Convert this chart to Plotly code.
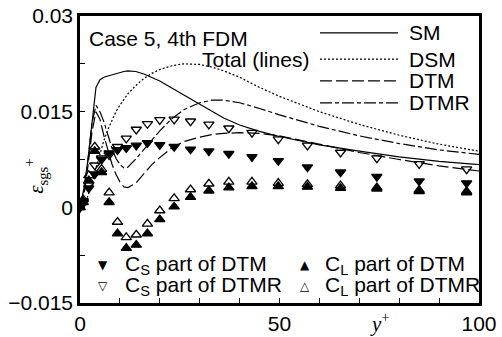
import plotly.graph_objects as go

# Total SGS dissipation curves (lines)
y_plus_line = [0, 1, 2, 3, 4, 5, 6, 7, 8, 9, 10, 11, 12, 14, 16, 18, 20, 23, 26, 30,
               33, 36, 40, 45, 50, 60, 70, 80, 90, 100]
eps_sm = [0, 0.003, 0.0075, 0.0135, 0.0188, 0.0200, 0.0204, 0.0206, 0.0208, 0.0210,
          0.0212, 0.0213, 0.0214, 0.0213, 0.0209, 0.0204, 0.0198, 0.0187, 0.0176, 0.0161,
          0.0150, 0.0140, 0.0129, 0.0119, 0.0111, 0.0098, 0.0088, 0.0079, 0.0072, 0.0067]
eps_dsm = [0, 0.0006, 0.0018, 0.0038, 0.0062, 0.0085, 0.0105, 0.0122, 0.0137, 0.0150,
           0.0160, 0.0170, 0.0178, 0.0191, 0.0202, 0.0210, 0.0216, 0.0222, 0.0225, 0.0224,
           0.0220, 0.0214, 0.0204, 0.0188, 0.0174, 0.0150, 0.0130, 0.0113, 0.0099, 0.0088]
eps_dtm = [0, 0.002, 0.0065, 0.0118, 0.0150, 0.0138, 0.0112, 0.0088, 0.0068, 0.0052,
           0.0040, 0.0032, 0.0031, 0.0038, 0.0052, 0.0067, 0.0078, 0.0093, 0.0103, 0.0110,
           0.0114, 0.0116, 0.0117, 0.0116, 0.0112, 0.0099, 0.0086, 0.0075, 0.0065, 0.0057]
eps_dtmr = [0, 0.0025, 0.0075, 0.0132, 0.0160, 0.0150, 0.0134, 0.0113, 0.0093, 0.0077,
            0.0067, 0.0062, 0.0063, 0.0076, 0.0091, 0.0106, 0.0120, 0.0139, 0.0153, 0.0164,
            0.0168, 0.0168, 0.0164, 0.0155, 0.0145, 0.0127, 0.0112, 0.0100, 0.0090, 0.0083]

# Model-coefficient contributions (symbols)
y_plus_pts = [0, 0.8, 2.2, 3.7, 5.4, 7.3, 9.4, 11.6, 14.1, 16.9, 20.0, 23.6, 27.7, 32.3,
              37.3, 43.1, 49.7, 57.0, 65.3, 74.4, 85.0, 96.9]
cs_dtm = [0, 0.0008, 0.0030, 0.0052, 0.0075, 0.0085, 0.0090, 0.0093, 0.0097, 0.0101,
          0.0098, 0.0095, 0.0091, 0.0088, 0.0084, 0.0079, 0.0073, 0.0063, 0.0055, 0.0048,
          0.0041, 0.0038]
cs_dtmr = [0, 0.0010, 0.0035, 0.0066, 0.0077, 0.0082, 0.0095, 0.0108, 0.0122, 0.0131,
           0.0137, 0.0138, 0.0135, 0.0130, 0.0124, 0.0117, 0.0107, 0.0097, 0.0086, 0.0077,
           0.0068, 0.0060]
cl_dtm = [0, 0.0008, 0.0042, 0.0088, 0.0055, 0.0008, -0.0041, -0.0064, -0.0059, -0.0041,
          -0.0019, 0.0001, 0.0016, 0.0026, 0.0031, 0.0033, 0.0033, 0.0032, 0.0030, 0.0029,
          0.0025, 0.0023]
cl_dtmr = [0, 0.0012, 0.0050, 0.0095, 0.0060, 0.0023, -0.0023, -0.0047, -0.0043, -0.0026,
           -0.0005, 0.0014, 0.0028, 0.0037, 0.0040, 0.0040, 0.0038, 0.0036, 0.0034, 0.0031,
           0.0027, 0.0025]

y_tick_vals = [-0.015, -0.0075, 0, 0.0075, 0.015, 0.0225, 0.03]
y_tick_text = ["\u22120.015", "", "0", "", "0.015", "", "0.03"]
x_tick_vals = [0, 10, 20, 30, 40, 50, 60, 70, 80, 90, 100]
x_tick_text = ["0", "", "", "", "", "50", "", "", "", "", "100"]

FONT = "Liberation Sans, Arial, sans-serif"
FS = 21
LW = 1.2
line_styles = [
    ("SM", eps_sm, "solid"),
    ("DSM", eps_dsm, "2px,2px"),
    ("DTM", eps_dtm, "12px,4px"),
    ("DTMR", eps_dtmr, "12px,3px,4px,3px"),
]

fig = go.Figure()
for name, vals, dash in line_styles:
    fig.add_trace(go.Scatter(x=y_plus_line, y=vals, mode="lines", name=name,
                             line=dict(color="black", width=LW, dash=dash),
                             showlegend=False))

marker_styles = [
    ("C_S part of DTM", cs_dtm, "triangle-down"),
    ("C_S part of DTMR", cs_dtmr, "triangle-down-open"),
    ("C_L part of DTM", cl_dtm, "triangle-up"),
    ("C_L part of DTMR", cl_dtmr, "triangle-up-open"),
]
for name, vals, sym in marker_styles:
    fig.add_trace(go.Scatter(x=y_plus_pts, y=vals, mode="markers", name=name,
                             marker=dict(symbol=sym, size=9, color="black",
                                         line=dict(color="black", width=1.3)),
                             showlegend=False))

# Hand-drawn key for the line styles (upper right)
key_rows = [(0.941, "SM", "solid"), (0.850, "DSM", "2px,2px"),
            (0.774, "DTM", "12px,4px"), (0.697, "DTMR", "12px,3px,4px,3px")]
shapes = []
annotations = []
for yk, label, dash in key_rows:
    shapes.append(dict(type="line", xref="paper", yref="paper", x0=0.6015, x1=0.797,
                       y0=yk, y1=yk, line=dict(color="black", width=LW, dash=dash)))
    annotations.append(dict(xref="paper", yref="paper", x=0.8195, y=yk, text=label,
                            showarrow=False, xanchor="left", yanchor="middle",
                            font=dict(size=FS, color="black", family=FONT)))

annotations += [
    dict(xref="paper", yref="paper", x=0.0175, y=0.920, text="Case 5, 4th FDM",
         showarrow=False, xanchor="left", yanchor="middle",
         font=dict(size=FS, color="black", family=FONT)),
    dict(xref="paper", yref="paper", x=0.579, y=0.847, text="Total (lines)",
         showarrow=False, xanchor="right", yanchor="middle",
         font=dict(size=FS, color="black", family=FONT)),
]

# Key for the symbol series (lower part of the panel)
sym_rows = [
    (0.0576, 0.108, 0.132, "\u25BC", "C<sub>S</sub> part of DTM"),
    (0.0576, 0.108, 0.060, "\u25BD", "C<sub>S</sub> part of DTMR"),
    (0.564, 0.609, 0.132, "\u25B2", "C<sub>L</sub> part of DTM"),
    (0.564, 0.609, 0.060, "\u25B3", "C<sub>L</sub> part of DTMR"),
]
for xs, xt, yk, glyph, label in sym_rows:
    annotations.append(dict(xref="paper", yref="paper", x=xs, y=yk, text=glyph,
                            showarrow=False, xanchor="center", yanchor="middle",
                            font=dict(size=12, color="black", family="DejaVu Sans")))
    annotations.append(dict(xref="paper", yref="paper", x=xt, y=yk, text=label,
                            showarrow=False, xanchor="left", yanchor="middle",
                            font=dict(size=FS, color="black", family=FONT)))

# Axis titles
annotations += [
    dict(xref="paper", yref="paper", x=0.752, y=-0.068, text="<i>y</i><sup>+</sup>",
         showarrow=False, xanchor="center", yanchor="middle",
         font=dict(size=FS, color="black", family="Liberation Serif, serif")),
    dict(xref="paper", yref="paper", x=-0.11, y=0.44,
         text="<i>\u03b5</i><sub>sgs</sub><sup>+</sup>", textangle=-90,
         showarrow=False, xanchor="center", yanchor="middle",
         font=dict(size=FS, color="black", family="Liberation Serif, serif")),
]

fig.update_layout(
    width=502, height=337,
    autosize=False,
    margin=dict(l=80, r=23, t=16, b=34, pad=0, autoexpand=False),
    paper_bgcolor="white", plot_bgcolor="white",
    font=dict(family=FONT, size=FS, color="black"),
    shapes=shapes, annotations=annotations,
    xaxis=dict(range=[0, 100], tickvals=x_tick_vals, ticktext=x_tick_text,
               ticks="inside", ticklen=5, tickwidth=1.2, tickcolor="black",
               showgrid=False, zeroline=False, showline=True, linecolor="black",
               linewidth=2.5, mirror=True, automargin=False,
               tickfont=dict(size=FS, family=FONT)),
    yaxis=dict(range=[-0.015, 0.03], tickvals=y_tick_vals, ticktext=y_tick_text,
               ticks="inside", ticklen=5, tickwidth=1.2, tickcolor="black",
               showgrid=False, zeroline=False, showline=True, linecolor="black",
               linewidth=2.5, mirror=True, automargin=False,
               tickfont=dict(size=FS, family=FONT)),
)

fig.write_html("out.html")
